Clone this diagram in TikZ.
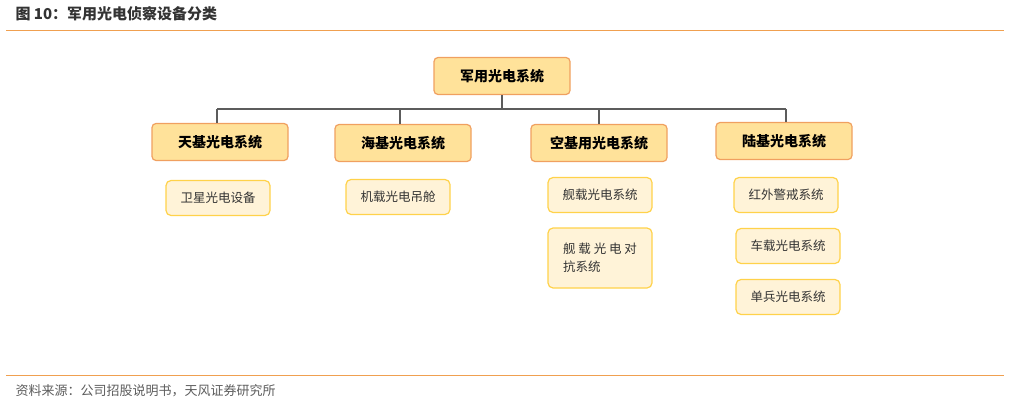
\documentclass[tikz,border=0pt]{standalone}
\usepackage{fontspec}
\setmainfont{Noto Sans CJK SC}
\definecolor{rule}{HTML}{F0A050}
\definecolor{headfill}{HTML}{FFE29A}
\definecolor{headline}{HTML}{F0A060}
\definecolor{leaffill}{HTML}{FFF3D8}
\definecolor{leafline}{HTML}{FFD24A}
\definecolor{ink}{HTML}{333333}
\begin{document}
\begin{tikzpicture}[x=1pt,y=-1pt,
    headbox/.style={draw=headline, fill=headfill, line width=1.2pt, rounded corners=4pt,
      minimum width=136pt, minimum height=37pt, font=\fontsize{14}{16}\selectfont\bfseries, text=black},
    leafbox/.style={draw=leafline, fill=leaffill, line width=1.2pt, rounded corners=5pt,
      minimum width=104pt, minimum height=35pt, font=\fontsize{12.5}{14}\selectfont, text=ink},
    bus/.style={draw=ink!80, line width=1.2pt}]
  \useasboundingbox (0,0) rectangle (1010,404);
  % title and rules
  \node[anchor=west, font=\fontsize{15}{17}\selectfont\bfseries, text=ink] (title) at (12,14) {图 10：军用光电侦察设备分类};
  \draw[rule, line width=1pt] (6,31) -- (1004,31);
  \draw[rule, line width=1pt] (6,375) -- (1004,375);
  \node[anchor=west, font=\fontsize{13}{15}\selectfont, text=ink!80] (src) at (12,391) {资料来源：公司招股说明书，天风证券研究所};
  % boxes
  \node[headbox] (root) at (502,76) {军用光电系统};
  \node[headbox] (sky) at (220,142) {天基光电系统};
  \node[headbox] (sea) at (403,143) {海基光电系统};
  \node[headbox] (air) at (599,143) {空基用光电系统};
  \node[headbox] (land) at (784,141) {陆基光电系统};
  \node[leafbox] (sat) at (218,198) {卫星光电设备};
  \node[leafbox] (pod) at (398,197) {机载光电吊舱};
  \node[leafbox] (ship) at (600,195) {舰载光电系统};
  \node[leafbox, minimum height=60pt, align=left] (counter) at (600,258) {舰 载 光 电 对\\[4pt]抗系统};
  \node[leafbox] (ir) at (786,195) {红外警戒系统};
  \node[leafbox] (car) at (788,246) {车载光电系统};
  \node[leafbox] (sold) at (788,297) {单兵光电系统};
  % connectors
  \coordinate (busl) at (217,109);
  \coordinate (busr) at (786,109);
  \draw[bus] (busl) -- (busr);
  \draw[bus] (root.south) -- (root.south |- busl);
  \foreach \n/\x in {sky/217, sea/400, air/599, land/786}
    \draw[bus] (\x,109) -- (\n.north -| \x,0);
\end{tikzpicture}
\end{document}
